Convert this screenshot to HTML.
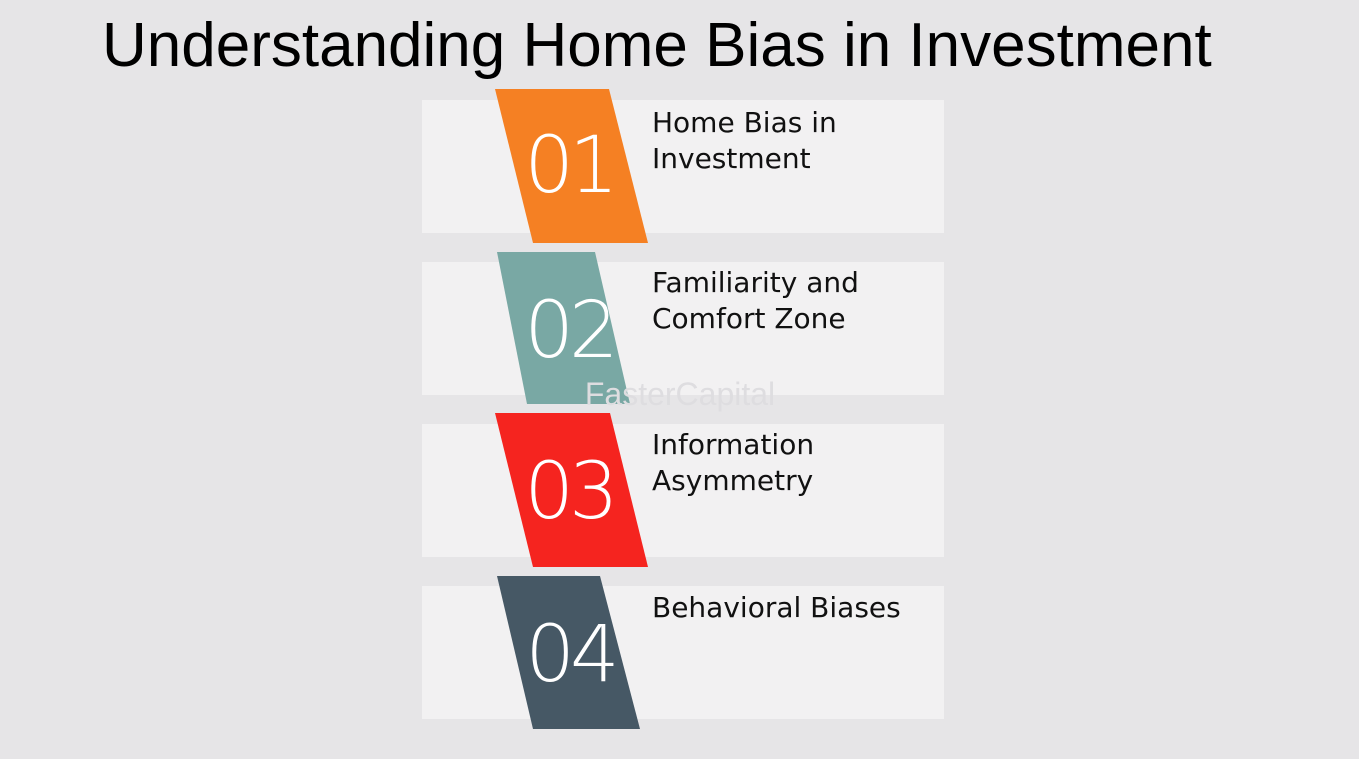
<!DOCTYPE html>
<html><head><meta charset="utf-8"><style>
body{margin:0;width:1359px;height:759px;background:#e6e5e7;position:relative;overflow:hidden;font-family:"Liberation Sans",sans-serif}
.card{position:absolute;left:422px;width:522px;height:133px;background:#f2f1f2}
.lbl{position:absolute;left:652px;font-family:"DejaVu Sans","Liberation Sans",sans-serif;font-size:28px;line-height:36px;color:#111}
svg{position:absolute;left:0;top:0}
</style></head><body>
<div style="position:absolute;left:102px;top:10px;font-size:62px;color:#000;white-space:nowrap">Understanding Home Bias in Investment</div>
<div class="card" style="top:100px"></div>
<div class="card" style="top:262px"></div>
<div class="card" style="top:424px"></div>
<div class="card" style="top:586px"></div>
<svg width="1359" height="759">
<polygon points="495,89 609,89 648,243 533,243" fill="#f58023"/>
<polygon points="497,252 595,252 630,404 527,404" fill="#79a8a4"/>
<polygon points="495,413 610,413 648,567 533,567" fill="#f5241f"/>
<polygon points="497,576 600,576 640,729 533,729" fill="#465865"/>
<g font-family="DejaVu Sans, Liberation Sans, sans-serif" font-weight="200" font-size="78" fill="#fff" text-anchor="middle" letter-spacing="-5">
<text x="569" y="192">01</text>
<text x="569" y="357">02</text>
<text x="569" y="518">03</text>
<text x="570" y="681">04</text>
</g>
<text x="680" y="405" font-size="32" fill="#dedde0" text-anchor="middle" font-family="Liberation Sans, sans-serif">FasterCapital</text>
</svg>
<div class="lbl" style="top:105px">Home Bias in<br>Investment</div>
<div class="lbl" style="top:265px">Familiarity and<br>Comfort Zone</div>
<div class="lbl" style="top:427px">Information<br>Asymmetry</div>
<div class="lbl" style="top:590px">Behavioral Biases</div>
</body></html>
